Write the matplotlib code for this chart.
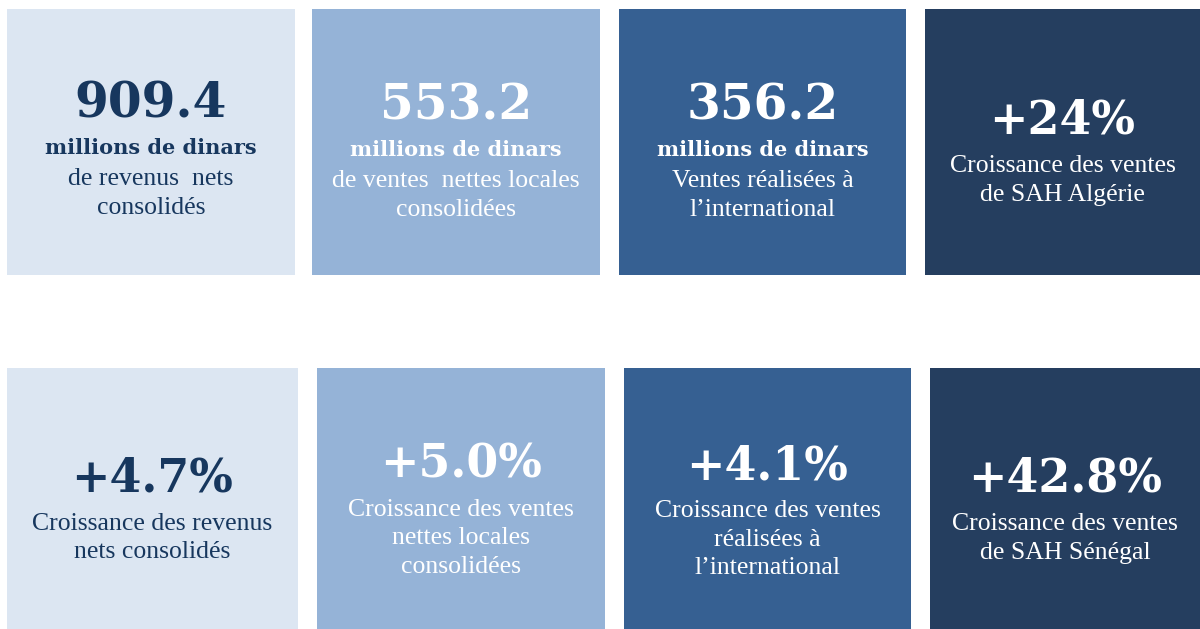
import matplotlib.pyplot as plt
from matplotlib.patches import Rectangle

# tile contents, row by row
values = ["909.4", "553.2", "356.2", "+24%",
          "+4.7%", "+5.0%", "+4.1%", "+42.8%"]
units = ["millions de dinars", "millions de dinars", "millions de dinars", "",
         "", "", "", ""]
captions = [
    "de revenus  nets\nconsolidés",
    "de ventes  nettes locales\nconsolidées",
    "Ventes réalisées à\nl\u2019international",
    "Croissance des ventes\nde SAH Algérie",
    "Croissance des revenus\nnets consolidés",
    "Croissance des ventes\nnettes locales\nconsolidées",
    "Croissance des ventes\nréalisées à\nl\u2019international",
    "Croissance des ventes\nde SAH Sénégal",
]

tile_colors = ["#dce6f2", "#95b3d7", "#366092", "#253e5f"]
text_colors = ["#17375e", "white", "white", "white"]

# tile boxes in pixels: left, top, right, bottom
row1 = [(7, 9, 295, 275), (312, 9, 600, 275), (619, 9, 906, 275), (925, 9, 1200, 275)]
row2 = [(7, 368, 298, 629), (317, 368, 605, 629), (624, 368, 911, 629), (930, 368, 1200, 629)]
# vertical position of the big number in each tile
num_y = [104, 106, 106, 121, 479, 465, 466, 479]
num_size = [35, 35, 35, 33, 33, 33, 33, 33]

fig = plt.figure(figsize=(12, 6.29), dpi=100)
ax = fig.add_axes([0, 0, 1, 1])
ax.set_xlim(0, 1200)
ax.set_ylim(629, 0)
ax.axis("off")

boxes = row1 + row2
for i, (l, t, r, b) in enumerate(boxes):
    k = i % 4
    ax.add_patch(Rectangle((l, t), r - l, b - t, color=tile_colors[k], lw=0))
    cx = (l + r) / 2
    y = num_y[i]
    ax.text(cx, y, values[i], ha="center", va="center", color=text_colors[k],
            fontsize=num_size[i], fontweight="bold", family="DejaVu Serif")
    if units[i]:
        y += 44
        ax.text(cx, y, units[i], ha="center", va="center", color=text_colors[k],
                fontsize=15, fontweight="bold", family="DejaVu Serif")
        y += 31
    else:
        y += 45
    for line in captions[i].split("\n"):
        ax.text(cx, y, line, ha="center", va="center", color=text_colors[k],
                fontsize=18.5, family="Liberation Serif")
        y += 28.5

fig.savefig("out.png", dpi=100, facecolor="white")
